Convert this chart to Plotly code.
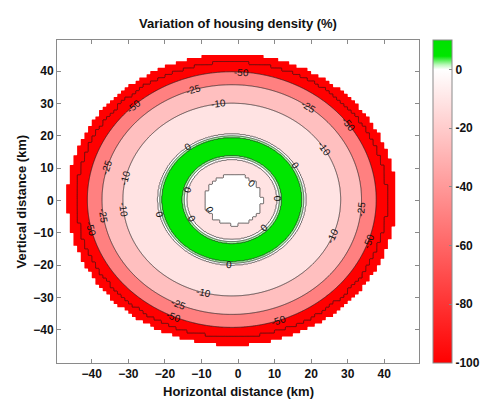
import numpy as np
import plotly.graph_objects as go

# ---------------- data ----------------
LEVELS = [-100, -50, -25, -10, 0, 2, 5]          # contour levels (%)
TOP_VALUE = 10                                    # top of the colour range (%)
BAND_COLORS = ["#ff0000", "#ff0000", "#ff8080", "#ffbfbf", "#ffe3e3",
               "#ffffff", "#a8f5a8", "#00e600"]   # below first level, then each band

# radial profile of the variation (distance from centre in km, value in %)
PROFILE_R = [7.8, 12.4, 13.0, 13.5, 16.3, 19.2, 19.7, 20.2, 29.8, 35.5, 39.5, 42.5]
PROFILE_V = [-4, 0, 2, 5, 8, 5, 2, 0, -10, -25, -50, -90]
CENTER = (-1.7, 0.3)      # km
HOLE_CENTER = (-1.2, 0.2)
R_HOLE = 7.8              # unchanged core (0 %)
R_FLOOR = 42.5            # -100 % ring starts here
R_EDGE = 45.0             # no data beyond this
CELL = 1.0                # data cell size (km)

# contour label positions: level, angle (deg) around the centre, inner/outer line
LABEL_LEVEL = [-50, -25, -10, -25, -50, -10, 0, 0, -50, -25, -10, 0,
               -10, -25, -50, 0, 0, -10, -25, -50, 0, -25,
               -50, -10, -50, 0, 0]
LABEL_ANGLE = [86, 107, 97, 54, 36, 32, 31, 126, 133, 164, 167, 166,
               186, 188, 193, 193, 208, 255, 246, 246, 1, 355,
               341, 338, 289, 268, 316]
LABEL_INNER = [False] * 11 + [True, False, False, False, False, True,
                              False, False, False, True, False,
                              False, False, False, False, True]
HOLE_LABEL_ANGLE = [46, 204]   # "0" labels on the core outline

XTICKS = [-40, -30, -20, -10, 0, 10, 20, 30, 40]
YTICKS = [-40, -30, -20, -10, 0, 10, 20, 30, 40]
CB_TICKS = [0, -20, -40, -60, -80, -100]
XRANGE = [-49.5, 49.5]
YRANGE = [-50.2, 49.6]

# ---------------- build the field ----------------
step = 0.25
fx = np.arange(-50 + step / 2, 50, step)
fy = np.arange(-50 + step / 2, 50, step)
FX, FY = np.meshgrid(fx, fy)
CX = np.floor(FX / CELL) * CELL + CELL / 2     # coarse cell centres
CY = np.floor(FY / CELL) * CELL + CELL / 2

r = np.hypot(FX - CENTER[0], FY - CENTER[1])
rc = np.hypot(CX - CENTER[0], CY - CENTER[1])
rh = np.hypot(CX - HOLE_CENTER[0], CY - HOLE_CENTER[1])

z = np.interp(r, PROFILE_R, PROFILE_V)
lev_ext = LEVELS + [TOP_VALUE]
idx = np.interp(z, lev_ext, np.arange(len(lev_ext)))
idx = np.where(rh < R_HOLE, 4.3, idx)          # 0 % core
idx = np.where(rc > R_FLOOR, -0.5, idx)        # -100 % ring
line_idx = np.round(idx, 3)
fill_idx = np.round(np.where(rc > R_EDGE, -1.5, idx), 3)   # outside data -> blank

colors = ["#ffffff"] + BAND_COLORS
n = len(colors) - 1
cscale = []
for k, c in enumerate(colors):
    lo = max(0.0, (k - 0.5) / n)
    hi = min(1.0, (k + 0.5) / n)
    cscale += [[lo, c], [hi, c]]

fig = go.Figure()
fig.add_trace(go.Contour(
    x=fx, y=fy, z=fill_idx,
    contours=dict(start=-1, end=len(LEVELS) - 1, size=1, coloring="fill", showlines=False),
    line=dict(width=0, smoothing=0),
    colorscale=cscale, showscale=False, hoverinfo="skip",
))
fig.add_trace(go.Contour(
    x=fx, y=fy, z=line_idx,
    contours=dict(start=0, end=len(LEVELS) - 1, size=1, coloring="none", showlines=True),
    line=dict(color="#1a1a1a", width=0.7, smoothing=0),
    showscale=False, hoverinfo="skip",
))

# colour bar
cb_scale = [[0.0, "rgb(255,0,0)"], [100 / 110, "rgb(255,255,255)"],
            [101.5 / 110, "rgb(190,248,190)"], [104.5 / 110, "rgb(0,230,0)"],
            [1.0, "rgb(0,225,0)"]]
fig.add_trace(go.Scatter(
    x=[-1000], y=[-1000], mode="markers", hoverinfo="skip", showlegend=False,
    marker=dict(color=[-100], cmin=-100, cmax=TOP_VALUE, colorscale=cb_scale, showscale=True,
                colorbar=dict(
                    x=(433 - 57) / 362, xanchor="left", xpad=0, ypad=0,
                    y=0.5, yanchor="middle", len=1, lenmode="fraction", thickness=19,
                    outlinewidth=1, outlinecolor="#8a8a8a",
                    tickvals=CB_TICKS, ticktext=[str(v) for v in CB_TICKS],
                    ticks="inside", ticklen=3, tickcolor="#8a8a8a",
                    tickfont=dict(family="Liberation Sans", size=12, color="#111", weight="bold"),
                )),
))

# contour labels
W, H = 362, 323
sx = W / (XRANGE[1] - XRANGE[0])
sy = H / (YRANGE[1] - YRANGE[0])
label_font = dict(family="Liberation Sans", size=10, color="#111")


def tangent_angle(t):
    a = np.degrees(np.arctan2(-np.cos(t) * sy, -np.sin(t) * sx))
    while a > 90:
        a -= 180
    while a <= -90:
        a += 180
    return a


for lv, ang, inner in zip(LABEL_LEVEL, LABEL_ANGLE, LABEL_INNER):
    rs = [PROFILE_R[i] for i, v in enumerate(PROFILE_V) if v == lv]
    rr = min(rs) if inner else max(rs)
    t = np.deg2rad(ang)
    fig.add_annotation(x=CENTER[0] + rr * np.cos(t), y=CENTER[1] + rr * np.sin(t),
                       text=str(lv), showarrow=False, textangle=tangent_angle(t),
                       font=label_font)
for ang in HOLE_LABEL_ANGLE:
    t = np.deg2rad(ang)
    rr = R_HOLE - 0.6
    fig.add_annotation(x=HOLE_CENTER[0] + rr * np.cos(t), y=HOLE_CENTER[1] + rr * np.sin(t),
                       text="0", showarrow=False, textangle=tangent_angle(t), font=label_font)

title_font = dict(family="Liberation Sans", size=13, color="#111", weight="bold")
fig.add_annotation(text="Horizontal distance (km)", xref="paper", yref="paper",
                   x=0.5, y=-(391 - 363) / 323, yanchor="middle", showarrow=False,
                   font=title_font)
fig.add_annotation(text="Vertical distance (km)", xref="paper", yref="paper",
                   x=-(57 - 21) / 362, y=0.5, xanchor="center", yanchor="middle",
                   textangle=-90, showarrow=False, font=title_font)

axis_common = dict(showgrid=False, zeroline=False, showline=True, linecolor="#8a8a8a",
                   linewidth=1, mirror="ticks", ticks="inside", ticklen=4, tickcolor="#8a8a8a",
                   automargin=False,
                   tickfont=dict(family="Liberation Sans", size=12, color="#111", weight="bold"))
fig.update_layout(
    width=486, height=399,
    margin=dict(l=57, r=67, t=40, b=36, autoexpand=False),
    paper_bgcolor="white", plot_bgcolor="white",
    showlegend=False,
    title=dict(text="Variation of housing density (%)", x=(57 + 181) / 486, xanchor="center",
               y=1 - 23 / 399, yanchor="middle", font=title_font),
    xaxis=dict(range=XRANGE, tickvals=XTICKS, **axis_common),
    yaxis=dict(range=YRANGE, tickvals=YTICKS, **axis_common),
)
fig.write_html("out.html", config={"displayModeBar": False},
               post_script="document.body.style.margin='0';document.body.style.padding='0';")
